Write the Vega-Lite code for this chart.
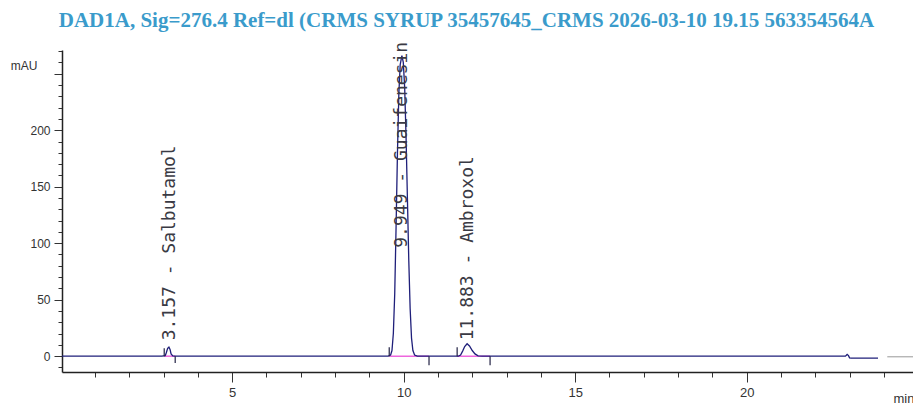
{
  "$schema": "https://vega.github.io/schema/vega-lite/v6.json",
  "width": 851,
  "height": 322,
  "autosize": {"type": "none"},
  "padding": {"left": 62, "top": 50, "right": 0, "bottom": 33},
  "background": "white",
  "config": {"view": {"stroke": null}},
  "title": {
    "text": "DAD1A, Sig=276.4 Ref=dl (CRMS SYRUP 35457645_CRMS 2026-03-10 19.15 563354564A",
    "font": "Liberation Serif",
    "fontSize": 21,
    "fontWeight": "bold",
    "color": "#3a9bcb",
    "anchor": "middle",
    "frame": "group",
    "dx": -21,
    "offset": -6,
    "baseline": "alphabetic"
  },
  "datasets": {
    "trace": [
      {"t": 0.04, "v": 0}, {"t": 2.95, "v": 0}, {"t": 3.05, "v": 0.5}, {"t": 3.08, "v": 3},
      {"t": 3.12, "v": 7}, {"t": 3.157, "v": 8}, {"t": 3.19, "v": 6}, {"t": 3.22, "v": 2},
      {"t": 3.27, "v": 0.3}, {"t": 3.35, "v": 0}, {"t": 9.55, "v": 0}, {"t": 9.62, "v": 1},
      {"t": 9.66, "v": 5}, {"t": 9.70, "v": 20}, {"t": 9.74, "v": 55}, {"t": 9.78, "v": 115},
      {"t": 9.82, "v": 180}, {"t": 9.86, "v": 232}, {"t": 9.90, "v": 258}, {"t": 9.949, "v": 266},
      {"t": 9.99, "v": 260}, {"t": 10.03, "v": 238}, {"t": 10.07, "v": 195}, {"t": 10.11, "v": 140},
      {"t": 10.15, "v": 85}, {"t": 10.19, "v": 42}, {"t": 10.23, "v": 16}, {"t": 10.27, "v": 5},
      {"t": 10.32, "v": 1}, {"t": 10.40, "v": 0}, {"t": 11.60, "v": 0}, {"t": 11.66, "v": 1},
      {"t": 11.72, "v": 4.5}, {"t": 11.78, "v": 8.5}, {"t": 11.85, "v": 11}, {"t": 11.92, "v": 9},
      {"t": 12.00, "v": 5}, {"t": 12.08, "v": 2}, {"t": 12.17, "v": 0.3}, {"t": 12.30, "v": 0},
      {"t": 22.88, "v": 0}, {"t": 22.93, "v": 1.5}, {"t": 22.97, "v": 0.5}, {"t": 23.0, "v": -1.5},
      {"t": 23.05, "v": -1.8}, {"t": 23.83, "v": -1.8}
    ],
    "tail": [
      {"t": 24.1, "v": -0.5}, {"t": 24.85, "v": -0.5}
    ],
    "baselines": [
      {"t": 3.02, "t2": 3.34, "v": 0},
      {"t": 9.58, "t2": 10.74, "v": 0},
      {"t": 11.56, "t2": 12.52, "v": 0}
    ],
    "events": [
      {"t": 3.02, "v": 0, "v2": 7},
      {"t": 3.34, "v": 0, "v2": -6},
      {"t": 9.58, "v": 0, "v2": 8},
      {"t": 10.74, "v": 0, "v2": -8},
      {"t": 11.56, "v": 0, "v2": 8},
      {"t": 12.52, "v": 0, "v2": -8}
    ],
    "labels": [
      {"t": 3.19, "v": 14, "label": "3.157 - Salbutamol"},
      {"t": 9.96, "v": 96, "label": "9.949 - Guaifenesin"},
      {"t": 11.88, "v": 14, "label": "11.883 - Ambroxol"}
    ]
  },
  "encoding": {
    "x": {
      "field": "t",
      "type": "quantitative",
      "scale": {"domain": [0.04, 24.85], "nice": false, "zero": false},
      "axis": {
        "values": [1, 2, 3, 4, 5, 6, 7, 8, 9, 10, 11, 12, 13, 14, 15, 16, 17, 18, 19, 20, 21, 22, 23, 24],
        "labelExpr": "datum.value % 5 === 0 ? datum.label : ''",
        "tickSize": {"condition": {"test": "datum.value % 5 === 0", "value": 10}, "value": 5},
        "labelPadding": 4,
        "labelFont": "Liberation Sans",
        "labelFontSize": 13,
        "labelColor": "#333333",
        "labelOverlap": false,
        "labelFlush": false,
        "grid": false,
        "domainColor": "#222222",
        "domainWidth": 1.5,
        "tickColor": "#333333",
        "tickWidth": 1,
        "title": "min",
        "titleX": 831,
        "titleY": 26,
        "titleAlign": "left",
        "titleBaseline": "middle",
        "titleFont": "Liberation Sans",
        "titleFontSize": 13,
        "titleFontWeight": "normal",
        "titleColor": "#333333"
      }
    },
    "y": {
      "field": "v",
      "type": "quantitative",
      "scale": {"domain": [-14, 271], "nice": false, "zero": false},
      "axis": {
        "values": [-10, 0, 10, 20, 30, 40, 50, 60, 70, 80, 90, 100, 110, 120, 130, 140, 150, 160, 170, 180, 190, 200, 210, 220, 230, 240, 250, 260, 270],
        "labelExpr": "datum.value % 50 === 0 && datum.value <= 200 ? datum.label : ''",
        "tickSize": {"condition": {"test": "datum.value % 50 === 0", "value": 8}, "value": 4},
        "labelPadding": 4,
        "labelFont": "Liberation Sans",
        "labelFontSize": 12,
        "labelColor": "#333333",
        "labelOverlap": false,
        "labelFlush": false,
        "grid": false,
        "domainColor": "#222222",
        "domainWidth": 1.5,
        "tickColor": "#333333",
        "title": "mAU",
        "titleAngle": 0,
        "titleX": -25,
        "titleY": 15,
        "titleAlign": "right",
        "titleBaseline": "middle",
        "titleFont": "Liberation Sans",
        "titleFontSize": 12,
        "titleFontWeight": "normal",
        "titleColor": "#333333"
      }
    }
  },
  "layer": [
    {
      "data": {"name": "baselines"},
      "mark": {"type": "rule", "color": "#ee66dd", "strokeWidth": 1.5},
      "encoding": {"x2": {"field": "t2"}}
    },
    {
      "data": {"name": "trace"},
      "mark": {"type": "line", "color": "#1f1f7a", "strokeWidth": 1.3},
      "encoding": {}
    },
    {
      "data": {"name": "tail"},
      "mark": {"type": "line", "color": "#b0b0b0", "strokeWidth": 1.3},
      "encoding": {}
    },
    {
      "data": {"name": "events"},
      "mark": {"type": "rule", "color": "#222244", "strokeWidth": 1.2},
      "encoding": {"y2": {"field": "v2"}}
    },
    {
      "data": {"name": "labels"},
      "mark": {"type": "text", "angle": 270, "align": "left", "baseline": "middle", "font": "DejaVu Sans Mono", "fontSize": 18, "color": "#3a3a44"},
      "encoding": {"text": {"field": "label"}}
    }
  ]
}
